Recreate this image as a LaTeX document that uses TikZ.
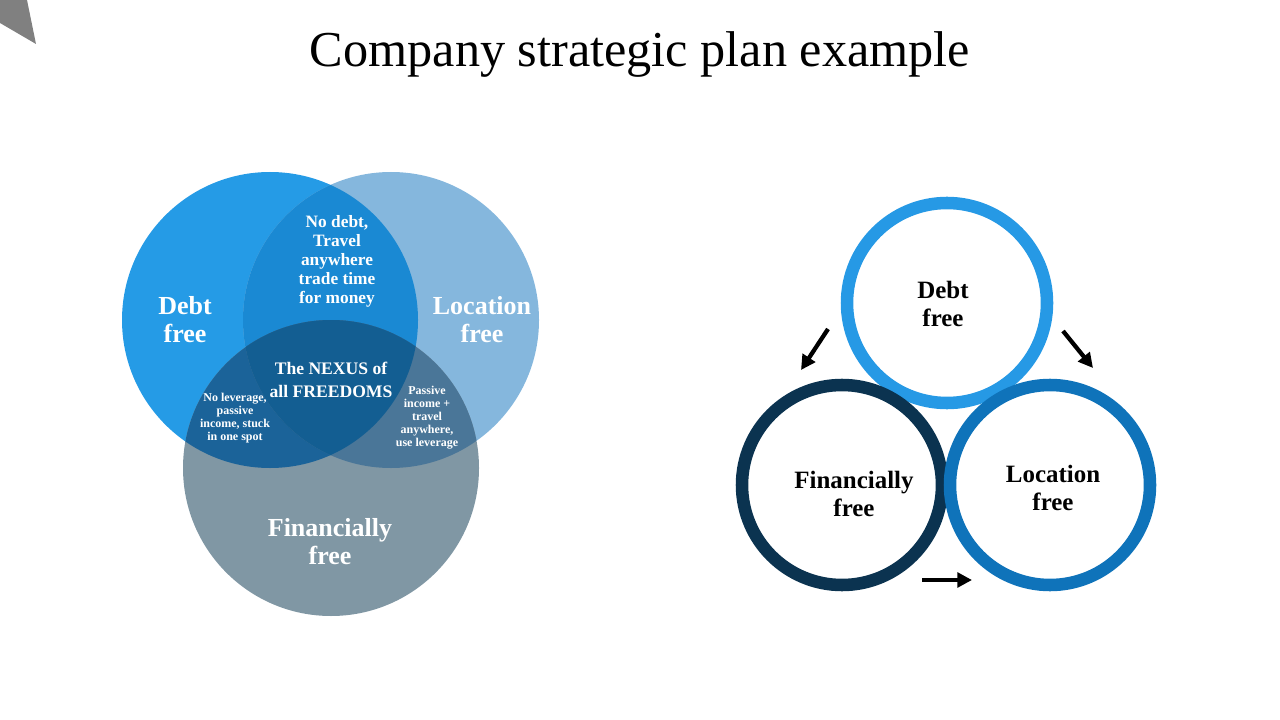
\documentclass[tikz,border=0pt]{standalone}
\usepackage{fontspec}
\setmainfont{Liberation Serif}
\usepackage{xcolor}
\usetikzlibrary{arrows.meta}

\definecolor{debtfill}{HTML}{259BE6}
\definecolor{locfill}{HTML}{85B7DD}
\definecolor{finfill}{HTML}{8097A4}
\definecolor{topmix}{HTML}{1A89D3}
\definecolor{leftmix}{HTML}{1B6399}
\definecolor{rightmix}{HTML}{4A7698}
\definecolor{nexusmix}{HTML}{135E92}
\definecolor{debtring}{HTML}{2699E5}
\definecolor{finring}{HTML}{0B3350}
\definecolor{locring}{HTML}{0F73BA}
\definecolor{cornergray}{HTML}{808080}

\tikzset{
	ring/.style={circle, draw, line width=9.4pt, minimum size=150pt, inner sep=0pt},
	bigword/.style={text=white, align=center, font=\bfseries\fontsize{19.5}{21}\selectfont},
	midword/.style={text=white, align=center, font=\bfseries\fontsize{13}{14.3}\selectfont},
	nexusword/.style={text=white, align=center, font=\bfseries\fontsize{13.2}{17.3}\selectfont},
	tinyword/.style={text=white, align=center, font=\bfseries\fontsize{9}{9.7}\selectfont},
	ringword/.style={text=black, align=center, font=\bfseries\fontsize{18.7}{21.3}\selectfont},
	flow/.style={line width=3.2pt, -{Triangle[length=11pt,width=11pt]}}
}

\begin{document}
\begin{tikzpicture}[x=0.75pt, y=-0.75pt]
	\useasboundingbox (0,0) rectangle (1280,720);
	% corner mark
	\fill[cornergray] (0,0) -- (27,0) -- (36,44) -- (0,23) -- cycle;
	\node[font=\fontsize{37.7}{40}\selectfont] (title) at (640,54) {Company strategic plan example};

	% venn
	\fill[debtfill] (270,320) circle (148);
	\fill[locfill] (391,320) circle (148);
	\fill[finfill] (331,468) circle (148);
	\begin{scope}
		\clip (270,320) circle (148);
		\fill[topmix] (391,320) circle (148);
		\fill[leftmix] (331,468) circle (148);
	\end{scope}
	\begin{scope}
		\clip (391,320) circle (148);
		\fill[rightmix] (331,468) circle (148);
	\end{scope}
	\begin{scope}
		\clip (270,320) circle (148);
		\clip (391,320) circle (148);
		\fill[nexusmix] (331,468) circle (148);
	\end{scope}
	\node[bigword] (vdebt) at (185,320) {Debt\\free};
	\node[bigword] (vloc) at (482,320) {Location\\free};
	\node[bigword] (vfin) at (330,542) {Financially\\free};
	\node[midword] (vtop) at (337,261) {No debt,\\Travel\\anywhere\\trade time\\for money};
	\node[nexusword] (vnexus) at (331,380) {The NEXUS of\\all FREEDOMS};
	\node[tinyword] (vleft) at (235,418) {No leverage,\\passive\\income, stuck\\in one spot};
	\node[tinyword] (vright) at (427,418) {Passive\\income +\\travel\\anywhere,\\use leverage};

	% cycle
	\node[ring, draw=debtring] (debt) at (947,303) {};
	\node[ring, draw=finring] (fin) at (842,485) {};
	\node[ring, draw=locring] (loc) at (1050,485) {};
	\node[ringword] (debttxt) at (943,304) {Debt\\free};
	\node[ringword] (fintxt) at (854,494) {Financially\\free};
	\node[ringword] (loctxt) at (1053,488) {Location\\free};

	\coordinate (dl1) at (828,329);
	\coordinate (dl2) at (801,370);
	\coordinate (dr1) at (1063,331);
	\coordinate (dr2) at (1093,368);
	\coordinate (fb1) at (922,580);
	\coordinate (fb2) at (972,580);
	\draw[flow] (dl1) -- (dl2);
	\draw[flow] (dr1) -- (dr2);
	\draw[flow] (fb1) -- (fb2);
\end{tikzpicture}
\end{document}
